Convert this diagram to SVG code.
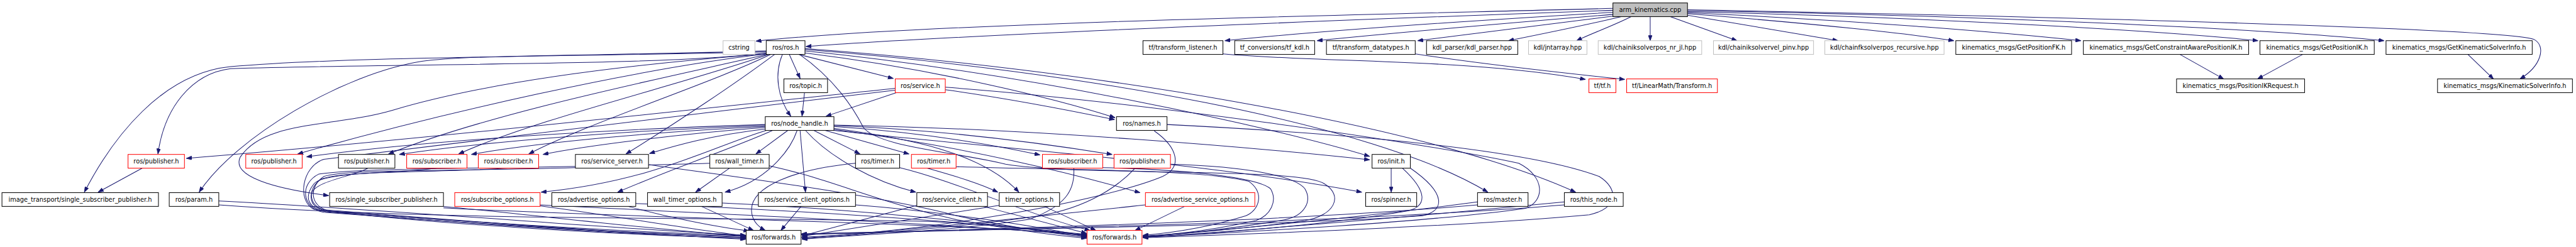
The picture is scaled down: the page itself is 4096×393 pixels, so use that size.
<svg xmlns="http://www.w3.org/2000/svg" width="4096" height="393" viewBox="0 0 4096 393">
<style>
.n rect{fill:#fff;stroke:#000;stroke-width:1.3}
.n.r rect{stroke:#ff0000}
.n.g rect{stroke:#bfbfbf}
.n.root rect{fill:#bfbfbf}
.n text{font-family:"DejaVu Sans","Liberation Sans",sans-serif;font-size:12.6px;text-anchor:middle;fill:#000}
#edges path{fill:none;stroke:#191970;stroke-width:1.3;marker-end:url(#ah)}
</style>
<defs>
<marker id="ah" markerUnits="userSpaceOnUse" markerWidth="12" markerHeight="8" refX="11" refY="4" orient="auto">
<path d="M0,0 L11,4 L0,8 Z" fill="#191970" stroke="#191970" stroke-width="1"/>
</marker>
</defs>
<rect width="4096" height="393" fill="#fff"/>
<g transform="scale(0.78)">
<g id="edges">
<path d="M3288,17 C2900,28 1900,45 1541,84"/>
<path d="M3288,21 C2900,35 2000,68 1643,95"/>
<path d="M3289,25 C3000,42 2700,62 2497,83"/>
<path d="M3292,29 C3100,45 2850,66 2685,83"/>
<path d="M3296,32 C3150,50 3000,70 2890,83"/>
<path d="M3305,34 C3230,52 3130,72 3075,83"/>
<path d="M3325,34 C3290,52 3240,70 3214,83"/>
<path d="M3364,34 L3364,83"/>
<path d="M3405,34 L3541,83"/>
<path d="M3440,31 L3747,83"/>
<path d="M3440,28 C3700,48 3900,70 3983,83"/>
<path d="M3440,26 C3800,42 4100,68 4242,83"/>
<path d="M3440,24 C3900,34 4400,62 4603,83"/>
<path d="M3440,22 C3900,28 4600,56 4860,83"/>
<path d="M3440,20 C4200,34 5100,58 5165,80 C5192,94 5180,135 5137,161"/>
<path d="M4444,111 L4533,161"/>
<path d="M4694,111 L4602,161"/>
<path d="M5031,111 L5083,161"/>
<path d="M2493,110 C2700,128 3000,120 3232,162"/>
<path d="M2885,110 C3050,135 3200,150 3312,162"/>
<path d="M1562,106 C1100,116 700,116 470,136 C330,150 230,280 172,392"/>
<path d="M1562,108 C1350,134 900,128 470,140 C390,150 335,220 322,314"/>
<path d="M1562,104 C1200,114 950,112 860,125 C700,150 480,280 406,392"/>
<path d="M1562,110 C1300,130 1000,165 800,225 C680,260 540,245 490,320 C470,360 560,385 670,399"/>
<path d="M1562,110 C1300,140 900,230 607,314"/>
<path d="M1564,111 C1350,160 1000,230 792,314"/>
<path d="M1567,111 C1400,170 1100,240 935,314"/>
<path d="M1571,111 C1450,170 1200,250 1078,314"/>
<path d="M1579,111 C1500,170 1380,250 1276,314"/>
<path d="M1595,111 C1578,150 1585,200 1612,237"/>
<path d="M1609,111 L1631,160"/>
<path d="M1628,111 L1821,160"/>
<path d="M1641,108 C1900,140 2150,200 2273,240"/>
<path d="M1641,104 C2100,150 2600,260 2792,319"/>
<path d="M1641,101 C2200,145 2800,250 3033,392"/>
<path d="M1641,99 C2200,140 2900,250 3212,392"/>
<path d="M1630,111 C1700,160 1740,220 1760,260 C1790,300 1950,310 2050,335 C2200,360 2650,340 2700,375 C2740,400 2720,440 2660,450 C2550,465 2400,478 2330,482"/>
<path d="M1640,189 L1635,237"/>
<path d="M1827,189 L1684,237"/>
<path d="M1927,183 C2050,200 2180,225 2272,244"/>
<path d="M1927,178 C2300,205 2900,290 3096,333 C3150,360 3150,410 3110,425 C2900,455 2500,475 2330,484"/>
<path d="M1825,180 C1400,225 800,290 380,323"/>
<path d="M1825,184 C1400,235 800,305 660,325 C615,340 605,410 640,427 C900,460 1300,480 1520,486"/>
<path d="M1560,254 C1300,262 900,282 625,320"/>
<path d="M1560,256 C1300,265 1000,287 814,315"/>
<path d="M1560,258 C1350,268 1100,290 961,315"/>
<path d="M1560,260 C1400,272 1200,296 1107,315"/>
<path d="M1560,263 C1450,276 1380,296 1324,313"/>
<path d="M1562,266 C1450,300 1330,370 1103,392"/>
<path d="M1575,266 C1500,300 1380,340 1259,392"/>
<path d="M1606,266 L1541,314"/>
<path d="M1625,266 C1610,310 1560,370 1478,392"/>
<path d="M1631,266 L1642,392"/>
<path d="M1642,266 C1690,320 1780,370 1867,392"/>
<path d="M1659,266 L1753,314"/>
<path d="M1682,266 L1853,314"/>
<path d="M1700,258 C1850,268 2000,290 2120,316"/>
<path d="M1700,256 C1900,264 2100,288 2267,315"/>
<path d="M1700,262 C1850,282 2000,310 2077,392"/>
<path d="M1700,264 C1900,290 2100,330 2324,393"/>
<path d="M1700,255 C2100,262 2550,300 2792,326"/>
<path d="M1700,266 C2000,300 2450,330 2776,392"/>
<path d="M1890,343 C1950,360 2000,375 2034,392"/>
<path d="M1487,343 L1418,392"/>
<path d="M2836,343 L2836,392"/>
<path d="M290,343 L200,392"/>
<path d="M2353,267 C2400,300 2412,340 2370,360 C2250,410 1900,472 1634,484"/>
<path d="M446,410 C800,428 1300,470 1520,480"/>
<path d="M446,418 C900,452 1500,442 1900,452 C2050,460 2150,472 2215,478"/>
<path d="M904,421 C1100,440 1350,470 1520,482"/>
<path d="M904,424 C1300,446 1900,452 2215,479"/>
<path d="M1101,420 C1250,440 1420,470 1520,481"/>
<path d="M1101,418 C1500,438 1950,458 2215,480"/>
<path d="M1280,421 C1350,440 1450,462 1527,471"/>
<path d="M1296,415 C1600,428 2000,452 2215,481"/>
<path d="M1430,421 L1536,470"/>
<path d="M1472,414 C1700,424 2000,452 2215,482"/>
<path d="M1633,421 L1592,470"/>
<path d="M1744,418 C1900,430 2100,458 2215,483"/>
<path d="M1744,333 C1620,345 1530,380 1532,430 C1533,450 1545,462 1560,470"/>
<path d="M1834,342 C1950,370 2100,440 2222,470"/>
<path d="M1869,419 L1635,481"/>
<path d="M2004,421 L2215,476"/>
<path d="M2037,419 C1900,440 1750,465 1635,482"/>
<path d="M2129,421 L2234,470"/>
<path d="M2335,418 C2100,443 1850,470 1635,486"/>
<path d="M2415,421 L2314,470"/>
<path d="M2189,343 C2192,390 2170,420 2100,447 C1950,470 1750,480 1635,487"/>
<path d="M2247,342 C2400,345 2560,360 2590,385 C2605,410 2590,440 2560,450 C2480,468 2400,478 2330,482"/>
<path d="M2314,343 C2270,390 2200,430 2100,443 C1950,465 1750,478 1635,488"/>
<path d="M2386,335 C2550,340 2640,360 2660,385 C2675,410 2660,440 2620,448 C2520,466 2400,478 2330,483"/>
<path d="M1949,340 C2200,348 2450,345 2546,370 C2580,395 2565,430 2540,440 C2470,462 2400,474 2330,480"/>
<path d="M1173,342 C900,350 700,345 660,360 C630,380 630,420 670,430 C900,450 1300,475 1520,480"/>
<path d="M1323,336 C1500,360 1800,400 1950,440 C2050,462 2150,476 2215,484"/>
<path d="M1447,333 C1100,345 750,340 650,355 C610,375 615,425 660,433 C950,455 1300,478 1520,482"/>
<path d="M1568,338 C1700,367 1780,410 1950,448 C2060,468 2150,480 2215,486"/>
<path d="M750,343 C720,360 640,370 635,395 C630,420 650,430 680,432 C1000,455 1300,478 1520,484"/>
<path d="M890,343 C800,355 660,350 640,375 C620,400 625,425 665,432 C1000,460 1300,480 1520,486"/>
<path d="M1036,343 C900,352 700,348 655,365 C625,385 630,420 660,428 C1000,455 1300,478 1520,488"/>
<path d="M2859,343 C2910,390 2910,420 2870,430 C2700,460 2450,478 2330,484"/>
<path d="M2875,343 C2950,395 2945,430 2900,440 C2600,462 2000,466 1634,479"/>
<path d="M3012,412 C2800,440 2500,470 2330,482"/>
<path d="M3012,418 C2700,445 2300,460 1634,478"/>
<path d="M3189,412 C2900,440 2550,470 2330,484"/>
<path d="M3189,418 C2800,450 2300,462 1634,477"/>
<path d="M2379,254 C2700,270 3100,300 3260,360 C3300,385 3300,425 3240,438 C3000,460 2600,476 2330,485"/>
</g>
<g id="n_root" class="n root"><rect x="3288" y="6" width="152" height="28"/><text x="3364" y="24.5">arm_kinematics.cpp</text></g>
<g id="n_cstring" class="n g"><rect x="1474" y="83" width="65" height="28"/><text x="1506.5" y="101.5">cstring</text></g>
<g id="n_ros" class="n"><rect x="1562" y="83" width="79" height="28"/><text x="1601.5" y="101.5">ros/ros.h</text></g>
<g id="n_tflistener" class="n"><rect x="2330" y="83" width="163" height="28"/><text x="2411.5" y="101.5">tf/transform_listener.h</text></g>
<g id="n_tfkdl" class="n"><rect x="2517" y="83" width="163" height="28"/><text x="2598.5" y="101.5">tf_conversions/tf_kdl.h</text></g>
<g id="n_tfdatatypes" class="n"><rect x="2704" y="83" width="181" height="28"/><text x="2794.5" y="101.5">tf/transform_datatypes.h</text></g>
<g id="n_kdlparser" class="n"><rect x="2908" y="83" width="186" height="28"/><text x="3001" y="101.5">kdl_parser/kdl_parser.hpp</text></g>
<g id="n_jntarray" class="n g"><rect x="3116" y="83" width="119" height="28"/><text x="3175.5" y="101.5">kdl/jntarray.hpp</text></g>
<g id="n_iksolverpos" class="n g"><rect x="3258" y="83" width="211" height="28"/><text x="3363.5" y="101.5">kdl/chainiksolverpos_nr_jl.hpp</text></g>
<g id="n_iksolvervel" class="n g"><rect x="3493" y="83" width="204" height="28"/><text x="3595" y="101.5">kdl/chainiksolvervel_pinv.hpp</text></g>
<g id="n_fksolverpos" class="n g"><rect x="3720" y="83" width="243" height="28"/><text x="3841.5" y="101.5">kdl/chainfksolverpos_recursive.hpp</text></g>
<g id="n_getposfk" class="n"><rect x="3987" y="83" width="236" height="28"/><text x="4105" y="101.5">kinematics_msgs/GetPositionFK.h</text></g>
<g id="n_getcaposik" class="n"><rect x="4247" y="83" width="337" height="28"/><text x="4415.5" y="101.5">kinematics_msgs/GetConstraintAwarePositionIK.h</text></g>
<g id="n_getposik" class="n"><rect x="4607" y="83" width="233" height="28"/><text x="4723.5" y="101.5">kinematics_msgs/GetPositionIK.h</text></g>
<g id="n_getksinfo" class="n"><rect x="4864" y="83" width="298" height="28"/><text x="5013" y="101.5">kinematics_msgs/GetKinematicSolverInfo.h</text></g>
<g id="n_topic" class="n"><rect x="1598" y="161" width="89" height="28"/><text x="1642.5" y="179.5">ros/topic.h</text></g>
<g id="n_service" class="n r"><rect x="1825" y="161" width="102" height="28"/><text x="1876" y="179.5">ros/service.h</text></g>
<g id="n_tftf" class="n r"><rect x="3239" y="161" width="55" height="28"/><text x="3266.5" y="179.5">tf/tf.h</text></g>
<g id="n_linearmath" class="n r"><rect x="3316" y="161" width="185" height="28"/><text x="3408.5" y="179.5">tf/LinearMath/Transform.h</text></g>
<g id="n_posikreq" class="n"><rect x="4437" y="161" width="261" height="28"/><text x="4567.5" y="179.5">kinematics_msgs/PositionIKRequest.h</text></g>
<g id="n_ksinfo" class="n"><rect x="4969" y="161" width="275" height="28"/><text x="5106.5" y="179.5">kinematics_msgs/KinematicSolverInfo.h</text></g>
<g id="n_nodehandle" class="n"><rect x="1560" y="238" width="140" height="28"/><text x="1630" y="256.5">ros/node_handle.h</text></g>
<g id="n_names" class="n"><rect x="2276" y="238" width="103" height="28"/><text x="2327.5" y="256.5">ros/names.h</text></g>
<g id="n_pub1" class="n r"><rect x="261" y="315" width="115" height="28"/><text x="318.5" y="333.5">ros/publisher.h</text></g>
<g id="n_pub2" class="n r"><rect x="501" y="315" width="115" height="28"/><text x="558.5" y="333.5">ros/publisher.h</text></g>
<g id="n_pub3" class="n"><rect x="690" y="315" width="115" height="28"/><text x="747.5" y="333.5">ros/publisher.h</text></g>
<g id="n_sub1" class="n r"><rect x="829" y="315" width="123" height="28"/><text x="890.5" y="333.5">ros/subscriber.h</text></g>
<g id="n_sub2" class="n r"><rect x="975" y="315" width="123" height="28"/><text x="1036.5" y="333.5">ros/subscriber.h</text></g>
<g id="n_srvserver" class="n"><rect x="1173" y="315" width="149" height="28"/><text x="1247.5" y="333.5">ros/service_server.h</text></g>
<g id="n_walltimer" class="n"><rect x="1447" y="315" width="121" height="28"/><text x="1507.5" y="333.5">ros/wall_timer.h</text></g>
<g id="n_timer1" class="n"><rect x="1744" y="315" width="90" height="28"/><text x="1789" y="333.5">ros/timer.h</text></g>
<g id="n_timer2" class="n r"><rect x="1858" y="315" width="91" height="28"/><text x="1903.5" y="333.5">ros/timer.h</text></g>
<g id="n_sub3" class="n r"><rect x="2125" y="315" width="123" height="28"/><text x="2186.5" y="333.5">ros/subscriber.h</text></g>
<g id="n_pub4" class="n r"><rect x="2271" y="315" width="115" height="28"/><text x="2328.5" y="333.5">ros/publisher.h</text></g>
<g id="n_init" class="n"><rect x="2797" y="315" width="78" height="28"/><text x="2836" y="333.5">ros/init.h</text></g>
<g id="n_itssp" class="n"><rect x="4" y="393" width="319" height="28"/><text x="163.5" y="411.5">image_transport/single_subscriber_publisher.h</text></g>
<g id="n_param" class="n"><rect x="345" y="393" width="101" height="28"/><text x="395.5" y="411.5">ros/param.h</text></g>
<g id="n_ssp" class="n"><rect x="672" y="393" width="232" height="28"/><text x="788" y="411.5">ros/single_subscriber_publisher.h</text></g>
<g id="n_subopts" class="n r"><rect x="927" y="393" width="174" height="28"/><text x="1014" y="411.5">ros/subscribe_options.h</text></g>
<g id="n_advopts" class="n"><rect x="1125" y="393" width="171" height="28"/><text x="1210.5" y="411.5">ros/advertise_options.h</text></g>
<g id="n_wtopts" class="n"><rect x="1320" y="393" width="152" height="28"/><text x="1396" y="411.5">wall_timer_options.h</text></g>
<g id="n_scopts" class="n"><rect x="1546" y="393" width="198" height="28"/><text x="1645" y="411.5">ros/service_client_options.h</text></g>
<g id="n_srvclient" class="n"><rect x="1869" y="393" width="144" height="28"/><text x="1941" y="411.5">ros/service_client.h</text></g>
<g id="n_timeropts" class="n"><rect x="2037" y="393" width="123" height="28"/><text x="2098.5" y="411.5">timer_options.h</text></g>
<g id="n_asopts" class="n r"><rect x="2335" y="393" width="223" height="28"/><text x="2446.5" y="411.5">ros/advertise_service_options.h</text></g>
<g id="n_spinner" class="n"><rect x="2784" y="393" width="104" height="28"/><text x="2836" y="411.5">ros/spinner.h</text></g>
<g id="n_master" class="n"><rect x="3012" y="393" width="103" height="28"/><text x="3063.5" y="411.5">ros/master.h</text></g>
<g id="n_thisnode" class="n"><rect x="3189" y="393" width="120" height="28"/><text x="3249" y="411.5">ros/this_node.h</text></g>
<g id="n_fwd1" class="n"><rect x="1521" y="470" width="112" height="28"/><text x="1577" y="488.5">ros/forwards.h</text></g>
<g id="n_fwd2" class="n r"><rect x="2216" y="470" width="112" height="28"/><text x="2272" y="488.5">ros/forwards.h</text></g>
</g>
</svg>
